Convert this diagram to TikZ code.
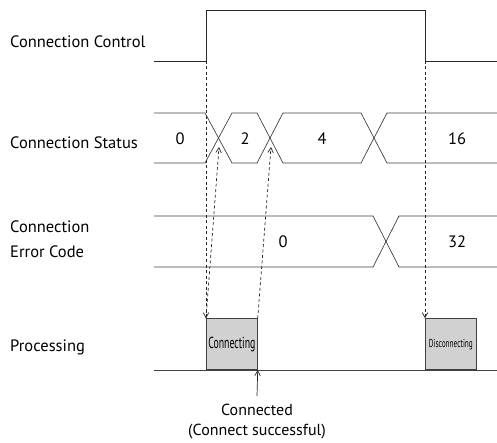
\documentclass[tikz,border=0pt]{standalone}
\usepackage{fontspec}
\setmainfont{PT Sans}
\usetikzlibrary{arrows.meta}
\begin{document}
\begin{tikzpicture}[x=1pt,y=-1pt,
  sig/.style={line width=0.9pt, black!85},
  bus/.style={line width=0.7pt, black!75},
  dashln/.style={line width=0.7pt, black!85, dash pattern=on 3pt off 2.5pt},
  tip/.style={-{Straight Barb[length=5pt,width=5.5pt]}},
  lbl/.style={anchor=west, inner sep=0pt, font=\fontsize{16.5}{19}\selectfont},
  val/.style={inner sep=0pt, font=\fontsize{16.5}{19}\selectfont},
  procbox/.style={draw=black!75, fill=black!18, line width=0.7pt, inner sep=0pt,
    minimum width=51pt, minimum height=51pt, anchor=south west}]
\useasboundingbox (0,0) rectangle (497,443);

% labels
\node[lbl] (lc) at (10,42) {Connection Control};
\node[lbl] (ls) at (10,143) {Connection Status};
\node[lbl] (le1) at (10,227) {Connection};
\node[lbl] (le2) at (10,252) {Error Code};
\node[lbl] (lp) at (10,347) {Processing};

% connection control
\coordinate (rise) at (206,61);
\coordinate (fall) at (425,61);
\draw[sig] (154,61) -- (rise) -- (206,10.5) -- (425,10.5) -- (fall) -- (497,61);

% connection status
\draw[bus] (154,113) -- (205,113) -- (232,163) -- (257,163) -- (283,113) -- (361,113) -- (387,163) -- (497,163);
\draw[bus] (154,163) -- (205,163) -- (232,113) -- (257,113) -- (283,163) -- (361,163) -- (387,113) -- (497,113);
\node[val] (s0) at (180,139) {0};
\node[val] (s2) at (245,139) {2};
\node[val] (s4) at (322,139) {4};
\node[val] (s16) at (457,139) {16};
\coordinate (x1) at (219,147);
\coordinate (x2) at (271,147);

% error code
\draw[bus] (154,216) -- (373,216) -- (399,267) -- (497,267);
\draw[bus] (154,267) -- (373,267) -- (399,216) -- (497,216);
\node[val] (e0) at (283,242) {0};
\node[val] (e32) at (457,242) {32};

% processing
\draw[bus] (154,370) -- (497,370);
\node[procbox] (conn) at (206,370) {\resizebox{47pt}{\height}{\fontsize{16}{18}\selectfont Connecting}};
\node[procbox] (disc) at (425,370) {\resizebox{44pt}{\height}{\fontsize{11.5}{14}\selectfont Disconnecting}};

% dashed arrows
\draw[dashln, tip] (rise) -- (conn.north west);
\draw[dashln, tip] (conn.north west) -- (x1);
\draw[dashln, tip] (conn.north east) -- (x2);
\draw[dashln, tip] (fall) -- (disc.north west);

% connected
\coordinate (cb) at (257,396);
\draw[line width=0.7pt, black!85, tip] (cb) -- (conn.south east);
\node[val, font=\fontsize{16}{19}\selectfont] (ct1) at (257,410) {Connected};
\node[val, font=\fontsize{16}{19}\selectfont] (ct2) at (257,432) {(Connect successful)};
\end{tikzpicture}
\end{document}
